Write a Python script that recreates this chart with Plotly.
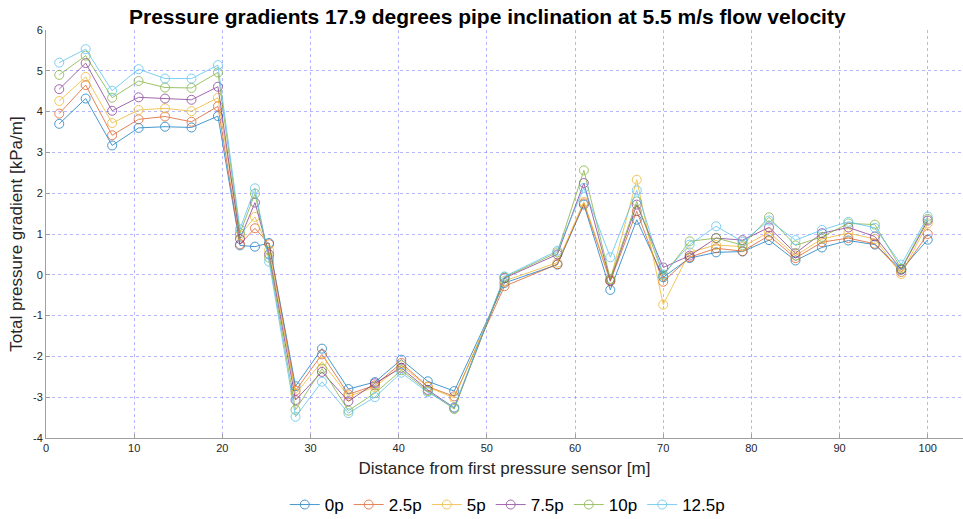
import plotly.graph_objects as go

# Sensor positions along the pipe [m]
distance = [1.5, 4.5, 7.5, 10.5, 13.5, 16.5, 19.5, 22.0, 23.7, 25.3, 28.3, 31.3,
            34.3, 37.3, 40.3, 43.3, 46.3, 52.0, 58.0, 61.0, 64.0, 67.0, 70.0, 73.0,
            76.0, 79.0, 82.0, 85.0, 88.0, 91.0, 94.0, 97.0, 100.0]

# Total pressure gradient [kPa/m] per case
g_0p = [3.70, 4.32, 3.17, 3.60, 3.63, 3.61, 3.89, 0.72, 0.69, 0.78, -2.73, -1.81,
        -2.80, -2.63, -2.08, -2.61, -2.85, -0.20, 0.25, 1.72, -0.37, 1.35, -0.06, 0.41,
        0.55, 0.57, 0.85, 0.35, 0.67, 0.84, 0.74, 0.13, 0.86]
g_2p5 = [3.95, 4.65, 3.42, 3.81, 3.88, 3.75, 4.13, 0.75, 1.14, 0.75, -2.84, -1.95,
         -2.93, -2.71, -2.16, -2.74, -2.98, -0.28, 0.26, 1.75, -0.16, 1.56, -0.17, 0.43,
         0.65, 0.58, 0.96, 0.41, 0.80, 0.90, 0.76, 0.07, 1.00]
g_5p = [4.26, 4.85, 3.72, 4.04, 4.08, 4.01, 4.34, 0.97, 1.42, 0.60, -2.92, -2.13,
        -2.98, -2.75, -2.22, -2.75, -3.02, -0.15, 0.30, 1.79, -0.12, 2.33, -0.73, 0.55,
        0.73, 0.69, 1.04, 0.47, 0.88, 1.02, 0.88, 0.02, 1.26]
g_7p5 = [4.55, 5.19, 4.02, 4.35, 4.32, 4.29, 4.61, 0.88, 1.77, 0.50, -3.07, -2.38,
         -3.10, -2.66, -2.28, -2.82, -3.26, -0.08, 0.50, 2.25, -0.14, 1.72, 0.18, 0.47,
         0.90, 0.85, 1.16, 0.53, 1.02, 1.16, 0.94, 0.13, 1.33]
g_10p = [4.90, 5.37, 4.34, 4.75, 4.59, 4.58, 4.96, 1.02, 1.99, 0.42, -3.31, -2.30,
         -3.33, -2.90, -2.34, -2.85, -3.29, -0.06, 0.55, 2.56, -0.10, 1.80, -0.02, 0.82,
         0.90, 0.73, 1.41, 0.72, 0.93, 1.26, 1.23, 0.15, 1.37]
g_12p5 = [5.20, 5.53, 4.51, 5.04, 4.81, 4.81, 5.14, 1.12, 2.12, 0.32, -3.48, -2.62,
          -3.39, -3.00, -2.40, -2.88, -3.25, -0.04, 0.59, 2.13, 0.43, 2.07, 0.01, 0.74,
          1.19, 0.81, 1.33, 0.85, 1.10, 1.30, 1.15, 0.25, 1.43]

series_names = ["0p", "2.5p", "5p", "7.5p", "10p", "12.5p"]
series_values = [g_0p, g_2p5, g_5p, g_7p5, g_10p, g_12p5]
colors = ["#0072BD", "#D95319", "#EDB120", "#7E2F8E", "#77AC30", "#4DBEEE"]

x_ticks = list(range(0, 101, 10))
y_ticks = list(range(-4, 7))

fig = go.Figure()
for name, vals, col in zip(series_names, series_values, colors):
    fig.add_trace(go.Scatter(
        x=distance, y=vals, name=name, mode="lines+markers",
        line=dict(color=col, width=1),
        marker=dict(symbol="circle-open", size=9, color=col, line=dict(width=1)),
        opacity=0.72,
    ))

font_family = "Liberation Sans, Arial, sans-serif"
axis_font = dict(family=font_family, size=11, color="#262626")
grid_col = "rgba(110,110,255,0.5)"

fig.update_layout(
    width=963, height=519,
    margin=dict(l=46, r=0, t=30, b=81, autoexpand=False),
    paper_bgcolor="white", plot_bgcolor="white",
    title=dict(
        text="<b>Pressure gradients 17.9 degrees pipe inclination at 5.5 m/s flow velocity</b>",
        x=0.506, xanchor="center", y=0.968, yanchor="middle",
        font=dict(family=font_family, size=21, color="black"),
    ),
    xaxis=dict(
        range=[0, 104], tickvals=x_ticks, ticktext=[str(v) for v in x_ticks],
        showgrid=True, gridcolor=grid_col, griddash="dot", gridwidth=1,
        zeroline=False, showline=True, linecolor="#a0a0a0", linewidth=1,
        ticks="inside", ticklen=4, tickcolor="#a0a0a0",
        tickfont=axis_font,
        title=dict(text="Distance from first pressure sensor [m]", standoff=8,
                   font=dict(family=font_family, size=17, color="#262626")),
    ),
    yaxis=dict(
        range=[-4, 6], tickvals=y_ticks, ticktext=[str(v) for v in y_ticks],
        showgrid=True, gridcolor=grid_col, griddash="dot", gridwidth=1,
        zeroline=False, showline=True, linecolor="#a0a0a0", linewidth=1,
        ticks="inside", ticklen=4, tickcolor="#a0a0a0",
        tickfont=axis_font,
        title=dict(text="Total pressure gradient [kPa/m]", standoff=6,
                   font=dict(family=font_family, size=17, color="#262626")),
    ),
    legend=dict(
        orientation="h", x=0.503, xanchor="center",
        yref="container", y=0.027, yanchor="middle",
        font=dict(family=font_family, size=17, color="black"),
        itemwidth=30, bgcolor="rgba(0,0,0,0)",
    ),
    showlegend=True,
)

fig.write_html("out.html")
